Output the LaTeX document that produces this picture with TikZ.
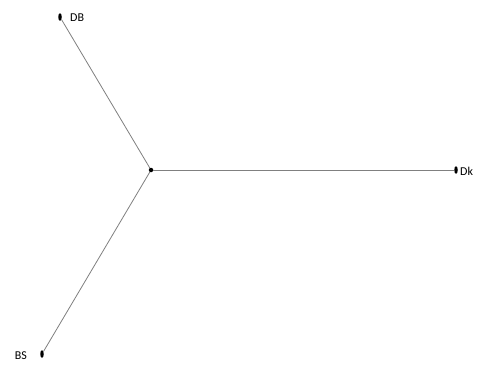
\documentclass[tikz,border=0pt]{standalone}
\usepackage{fontspec}
\setmainfont{Carlito}
\usetikzlibrary{shapes.geometric}
\begin{document}
\begin{tikzpicture}[x=1bp,y=-1bp,
  edge/.style={draw=black!50,line width=0.8bp},
  leaf/.style={ellipse,fill=black,inner sep=0pt,minimum width=3.5bp,minimum height=7.5bp},
  hub/.style={circle,fill=black,inner sep=0pt,minimum size=4.5bp},
  lbl/.style={font=\fontsize{12bp}{14bp}\selectfont,inner sep=0pt,anchor=west}]
\useasboundingbox[fill=white] (0,0) rectangle (481,367);
\node[hub] (c) at (151,170) {};
\node[leaf] (db) at (60,17) {};
\node[leaf] (dk) at (456,170) {};
\node[leaf] (bs) at (42,354) {};
\node[lbl] (tdb) at (70,18) {DB};
\node[lbl] (tdk) at (460,171) {Dk};
\node[lbl,anchor=east] (tbs) at (27,356) {BS};
\draw[edge] (c) -- (db);
\draw[edge] (c) -- (dk);
\draw[edge] (c) -- (bs);
\end{tikzpicture}
\end{document}
